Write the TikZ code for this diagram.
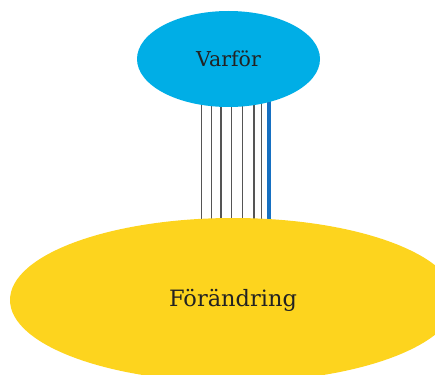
\documentclass[tikz,border=0pt]{standalone}
\usepackage{fontspec}
\setmainfont{DejaVu Serif}
\usetikzlibrary{shapes.geometric,backgrounds}
\definecolor{skyblue}{HTML}{00AEE6}
\definecolor{sunyellow}{HTML}{FDD41E}
\definecolor{strandgray}{HTML}{555555}
\definecolor{strandblue}{HTML}{1670C2}
\definecolor{inktext}{HTML}{222222}
\tikzset{
	blob/.style={ellipse,inner sep=0pt,text=inktext},
	strand/.style={draw=strandgray,line width=1.1pt},
	boldstrand/.style={draw=strandblue,line width=3.8pt}
}
\begin{document}
\begin{tikzpicture}[x=1pt,y=-1pt]
		\useasboundingbox (0,0) rectangle (435,374);
		\node[blob,fill=skyblue,minimum width=183pt,minimum height=96pt,font=\fontsize{20.5}{24}\selectfont] (varfor) at (228.5,59) {Varför};
		\node[blob,fill=sunyellow,minimum width=446pt,minimum height=164pt,font=\fontsize{22.5}{26}\selectfont] (forandring) at (233,300) {Förändring};
		\begin{scope}[on background layer]
		\foreach \x in {201.7,211.7,221,231.7,242.7,254,261.7}
			\draw[strand] (\x,0 |- varfor.center) -- (\x,0 |- forandring.center);
		\draw[boldstrand] (269.3,0 |- varfor.center) -- (269.3,0 |- forandring.center);
		\end{scope}
\end{tikzpicture}
\end{document}
